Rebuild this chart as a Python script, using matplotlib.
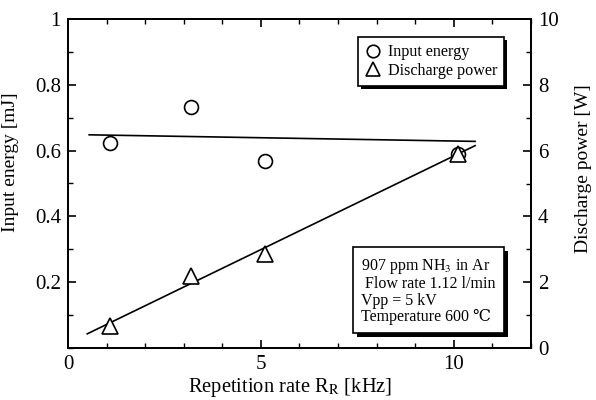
import matplotlib
matplotlib.use("Agg")
import matplotlib.pyplot as plt
from matplotlib.ticker import MultipleLocator
from matplotlib.patches import Rectangle
from matplotlib.transforms import IdentityTransform

# ---- data ----
rate_khz = [1.1, 3.2, 5.1, 10.1]
input_energy_mj = [0.623, 0.733, 0.568, 0.590]
discharge_power_w = [0.68, 2.20, 2.85, 5.90]

# fitted lines (endpoints)
fit_energy_x = [0.55, 10.55]
fit_energy_y = [0.648, 0.628]
fit_power_x = [0.5, 10.55]
fit_power_y = [0.43, 6.15]

x_ticks = [0, 5, 10]
left_ticks = [0.2, 0.4, 0.6, 0.8, 1.0]
left_ticklabels = ["0.2", "0.4", "0.6", "0.8", "1"]
right_ticks = [0, 2, 4, 6, 8, 10]

plt.rcParams['font.family'] = ['Liberation Serif', 'DejaVu Serif', 'DejaVu Sans']
plt.rcParams['mathtext.fontset'] = 'stix'

fig = plt.figure(figsize=(5.96, 4.0), dpi=100)
ax = fig.add_axes([0.114, 0.13, 0.777, 0.8225])
ax2 = ax.twinx()

ax.set_xlim(0, 12)
ax.set_ylim(0, 1)
ax2.set_ylim(0, 10)

lw = 1.3
for a in (ax, ax2):
    for s in a.spines.values():
        s.set_linewidth(lw)

ax.plot(fit_energy_x, fit_energy_y, color='black', lw=1.2)
ax2.plot(fit_power_x, fit_power_y, color='black', lw=1.2)
h1, = ax.plot(rate_khz, input_energy_mj, 'o', ms=10, mfc='white', mec='black', mew=1.2, label='Input energy')
h2, = ax2.plot(rate_khz, discharge_power_w, '^', ms=11, mfc='white', mec='black', mew=1.2, label='Discharge power')

ax.set_xticks(x_ticks)
ax.xaxis.set_minor_locator(MultipleLocator(1))
ax.set_yticks(left_ticks)
ax.set_yticklabels(left_ticklabels)
ax.yaxis.set_minor_locator(MultipleLocator(0.1))
ax2.set_yticks(right_ticks)
ax2.yaxis.set_minor_locator(MultipleLocator(1))

ax.tick_params(axis='both', which='major', direction='in', length=6, width=1.2, labelsize=15, top=True, pad=5)
ax.tick_params(axis='both', which='minor', direction='in', length=3.5, width=1.0, top=True)
ax.tick_params(axis='y', right=False, which='both')
ax2.tick_params(axis='y', which='major', direction='in', length=6, width=1.2, labelsize=15, pad=5)
ax2.tick_params(axis='y', which='minor', direction='in', length=3.5, width=1.0)

ax.set_xlabel('Repetition rate R$_\\mathrm{R}$ [kHz]', fontsize=14.8)
ax.xaxis.set_label_coords(0.48, -0.085)
ax.set_ylabel('Input energy [mJ]', fontsize=14)
ax.yaxis.set_label_coords(-0.105, 0.565)
ax2.set_ylabel('Discharge power [W]', fontsize=14)
ax2.yaxis.set_label_coords(1.095, 0.545)

leg = ax2.legend(handles=[h1, h2], loc='upper right', bbox_to_anchor=(0.942, 0.945),
                 borderaxespad=0, fontsize=11.6, frameon=True, fancybox=False,
                 shadow=False, handletextpad=0.4, framealpha=1,
                 handlelength=1.0, labelspacing=0.15, borderpad=0.45, markerscale=0.9)
leg.get_frame().set_edgecolor('black')
leg.get_frame().set_linewidth(1.2)
leg.set_zorder(6)

note = ("907 ppm NH$_3$ in Ar\n Flow rate 1.12 l/min\nVpp = 5 kV\nTemperature 600 \u2103")
t = ax2.text(0.779, 0.173, note, transform=ax2.transAxes, fontsize=11.5, ha='center', va='center',
             linespacing=1.05, multialignment='left', zorder=6,
             bbox=dict(boxstyle='square,pad=0.5', fc='white', ec='black', lw=1.2))

fig.canvas.draw()
renderer = fig.canvas.get_renderer()
for bb, off in ((leg.get_frame().get_window_extent(renderer), 3),
                (t.get_bbox_patch().get_window_extent(renderer), 4)):
    ax2.add_patch(Rectangle((bb.x0 + off, bb.y0 - off), bb.width, bb.height,
                            transform=IdentityTransform(), fc='black', ec='none',
                            zorder=5.5, clip_on=False))

fig.savefig('out.png', dpi=100)
